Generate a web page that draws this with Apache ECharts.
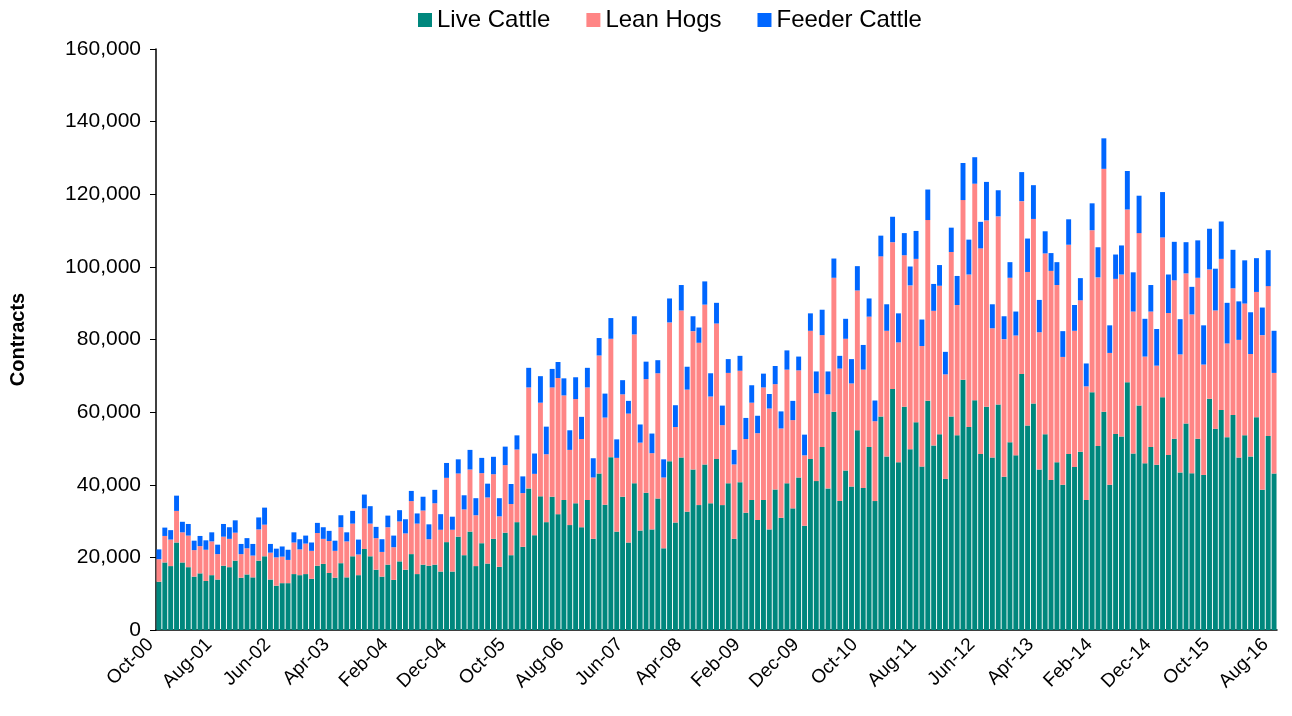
<!DOCTYPE html>
<html>
<head>
<meta charset="utf-8">
<script src="https://cdn.jsdelivr.net/npm/echarts@6/dist/echarts.min.js"></script>
<style>
html,body{margin:0;padding:0;background:#fff;}
#chart{width:1292px;height:716px;}
</style>
</head>
<body>
<div id="chart"></div>
<script>
// Values in thousands of contracts
const liveCattle = [13.3,18.6,17.6,24.1,18.6,17.3,14.7,15.6,13.5,15.1,
13.9,17.7,17.3,19.1,14.4,15.3,14.5,19.1,20.3,13.9,
12.2,12.9,12.9,15.4,15.1,15.4,14.1,17.7,18.2,15.7,
14.4,18.4,14.5,20.3,15.1,22.3,20.3,16.6,14.7,18.0,
13.8,18.9,16.6,20.9,15.4,18.0,17.7,18.0,16.1,24.2,
16.1,25.7,20.6,27.1,17.6,23.9,18.3,25.1,17.4,26.8,
20.6,29.7,22.9,39.0,26.1,36.8,29.7,36.7,31.9,35.8,
28.9,34.9,28.3,35.8,25.1,43.1,34.5,47.6,27.1,36.7,
24.1,40.4,27.4,37.8,27.7,36.2,22.5,46.5,29.6,47.5,
32.6,44.2,34.4,45.6,34.9,47.1,34.4,40.4,25.1,40.7,
32.3,35.8,30.3,35.8,27.7,38.7,30.9,40.4,33.5,42.0,
28.7,47.1,41.0,50.4,39.0,60.1,35.5,43.9,39.5,55.0,
39.1,50.4,35.5,58.8,47.8,66.4,46.2,61.5,49.8,57.2,
45.0,63.1,50.8,53.9,41.6,58.8,53.6,68.9,55.9,63.3,
48.5,61.5,47.5,62.1,42.2,51.7,48.1,70.5,56.3,62.4,
44.2,53.9,41.3,46.2,40.0,48.5,44.9,49.1,35.8,65.5,
50.7,60.1,40.0,54.0,53.3,68.2,48.6,61.8,45.9,50.4,
45.5,64.1,48.2,52.7,43.4,56.9,43.2,52.7,42.7,63.7,
55.4,60.6,53.1,59.2,47.5,53.6,47.8,58.6,38.6,53.4,
43.1];
const leanHogs = [6.2,7.3,7.3,8.7,8.3,8.7,7.3,7.5,8.6,9.3,
7.0,8.0,7.8,7.7,6.5,7.2,6.0,8.6,8.7,7.4,
7.8,7.3,6.4,8.7,7.1,8.4,7.7,9.0,6.9,8.8,
7.4,9.9,9.9,9.0,5.7,11.2,9.0,8.7,6.8,10.3,
9.0,11.0,10.0,14.6,13.9,14.9,7.3,16.9,11.5,17.7,
11.5,17.4,12.6,17.1,14.0,19.3,18.2,17.8,13.9,18.6,
14.1,20.0,14.8,27.8,16.9,25.8,18.7,30.1,37.5,28.8,
20.7,28.7,24.3,31.0,16.9,32.5,24.0,32.6,20.3,28.2,
35.5,41.0,24.2,31.3,21.0,34.5,19.5,38.2,26.3,40.5,
33.6,38.1,44.7,44.0,29.4,37.3,22.0,30.4,20.5,30.7,
20.3,26.8,23.9,31.0,33.3,29.0,24.6,31.3,24.3,29.5,
19.4,35.3,24.2,30.8,25.9,36.9,36.5,36.3,28.4,38.5,
32.6,35.9,22.0,44.1,34.6,40.4,33.0,41.7,45.1,45.0,
33.2,49.8,37.1,40.9,28.8,45.3,35.9,49.5,42.0,59.6,
56.6,51.3,35.6,51.8,37.9,45.3,33.0,47.6,42.3,50.8,
37.8,49.8,57.6,48.8,35.2,57.6,37.5,41.7,31.3,44.6,
46.4,66.9,36.3,42.7,44.6,47.6,39.1,47.5,29.4,37.3,
27.3,44.0,39.1,43.6,32.5,41.3,43.7,44.3,30.4,35.6,
32.6,41.6,25.8,34.9,32.4,36.3,28.2,34.5,42.6,41.3,
27.7];
const feederCattle = [2.7,2.3,2.6,4.2,2.9,3.2,2.6,2.8,2.6,2.5,
2.6,3.5,3.2,3.4,2.8,2.8,3.2,3.3,4.7,2.4,
2.4,2.8,2.8,2.8,2.8,2.2,2.3,2.8,3.2,2.8,
2.8,3.3,2.5,3.5,4.1,3.8,4.8,3.1,3.5,3.2,
3.2,3.1,3.9,2.8,2.8,3.8,4.1,3.7,4.3,4.1,
3.6,3.9,3.9,5.4,4.7,4.2,3.8,4.8,5.0,5.1,
5.5,3.9,4.6,5.4,5.6,7.3,7.6,5.1,4.4,4.7,
5.4,6.0,6.1,5.4,5.3,4.8,6.6,5.7,5.1,3.9,
3.5,5.0,5.0,4.8,5.4,3.6,5.0,6.6,6.0,7.0,
6.3,4.1,4.2,6.4,6.4,5.7,5.4,3.8,4.0,4.1,
5.8,4.8,4.8,3.8,4.0,5.0,4.7,5.3,5.3,3.8,
5.7,4.8,6.0,7.0,6.3,5.3,3.5,5.5,6.7,6.7,
6.8,5.0,5.7,5.7,7.3,7.0,8.0,6.1,5.2,7.7,
7.3,8.4,7.4,5.7,6.2,6.7,8.0,10.2,9.6,7.3,
7.3,10.6,6.6,7.2,6.3,4.3,6.6,8.0,9.2,9.3,
8.9,6.1,4.9,6.3,7.1,7.0,7.1,6.1,6.3,7.4,
8.3,8.4,7.6,6.7,8.0,10.6,10.8,10.3,10.4,7.3,
10.1,12.5,10.6,10.6,9.7,8.6,7.6,10.3,10.8,11.2,
11.5,10.3,11.2,10.6,10.6,11.9,11.5,9.3,7.6,9.9,
11.6];
const monthNames = ['Jan','Feb','Mar','Apr','May','Jun','Jul','Aug','Sep','Oct','Nov','Dec'];
const startYear = 2000, startMonth = 9; // Oct-00
const categories = [];
for (let i = 0; i < liveCattle.length; i++) {
  const m = (startMonth + i) % 12;
  const y = startYear + Math.floor((startMonth + i) / 12);
  categories.push(monthNames[m] + '-' + String(y % 100).padStart(2, '0'));
}
const yTicks = [0, 20, 40, 60, 80, 100, 120, 140, 160];

const chart = echarts.init(document.getElementById('chart'), null, {renderer: 'canvas'});
const fontFamily = '"Liberation Sans", Arial, sans-serif';
const barGap = '16%';
chart.setOption({
  animation: false,
  textStyle: {fontFamily: fontFamily},
  legend: {
    top: 3,
    left: 413,
    icon: 'rect',
    itemWidth: 14,
    itemHeight: 14,
    itemGap: 36,
    textStyle: {fontSize: 24, color: '#000', fontFamily: fontFamily},
    data: ['Live Cattle', 'Lean Hogs', 'Feeder Cattle']
  },
  grid: {left: 153, right: 15, top: 49, bottom: 86, containLabel: false},
  xAxis: {
    type: 'category',
    data: categories,
    axisLine: {lineStyle: {color: '#000', width: 1.5}},
    axisTick: {interval: 9, length: 6, lineStyle: {color: '#000'}},
    axisLabel: {interval: 9, rotate: 45, fontSize: 19, color: '#000', margin: 3, padding: [0, 12, 0, 0], fontFamily: fontFamily}
  },
  yAxis: {
    type: 'value',
    min: yTicks[0],
    max: yTicks[yTicks.length - 1],
    interval: 20,
    name: 'Contracts',
    nameLocation: 'middle',
    nameGap: 128,
    nameTextStyle: {fontSize: 20, fontWeight: 'bold', color: '#000', fontFamily: fontFamily},
    splitLine: {show: false},
    axisLine: {show: true, lineStyle: {color: '#000', width: 1.5}},
    axisTick: {show: true, length: 6, lineStyle: {color: '#000'}},
    axisLabel: {
      fontSize: 21, color: '#000', margin: 15, fontFamily: fontFamily,
      formatter: function (v) { return String(v * 1000).replace(/\B(?=(\d{3})+(?!\d))/g, ','); }
    }
  },
  series: [
    {name: 'Live Cattle', type: 'bar', stack: 'total', data: liveCattle, barCategoryGap: barGap, itemStyle: {color: '#00877D'}},
    {name: 'Lean Hogs', type: 'bar', stack: 'total', data: leanHogs, barCategoryGap: barGap, itemStyle: {color: '#FF8585'}},
    {name: 'Feeder Cattle', type: 'bar', stack: 'total', data: feederCattle, barCategoryGap: barGap, itemStyle: {color: '#0066FF'}}
  ]
});
</script>
</body>
</html>
